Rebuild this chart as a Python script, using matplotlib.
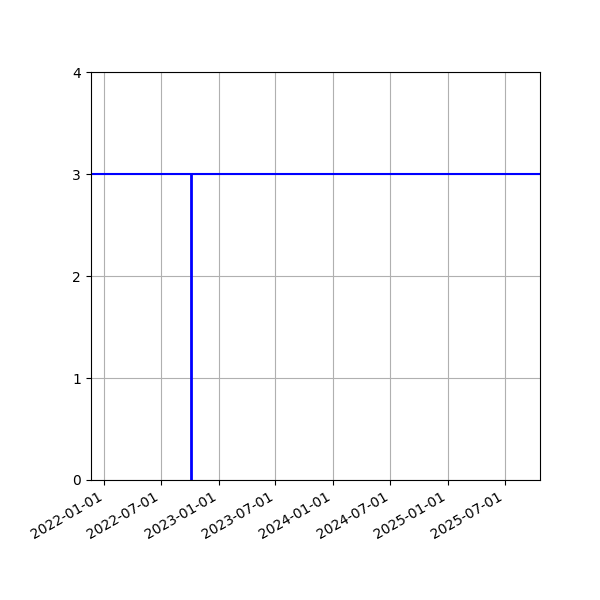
import datetime as dt
import matplotlib
matplotlib.use("Agg")
import matplotlib.pyplot as plt
import matplotlib.dates as mdates

level = 3
event_date = dt.date(2022, 10, 5)
x_start = dt.date(2021, 11, 18)
x_end = dt.date(2025, 10, 22)

fig, ax = plt.subplots(figsize=(6, 6), dpi=100)

ax.axhline(level, color='blue', linewidth=1.5)
ax.vlines(event_date, 0, level, color='blue', linewidth=2)

ax.set_xlim(x_start, x_end)
ax.set_ylim(0, 4)
ax.set_yticks([0, 1, 2, 3, 4])
ax.xaxis.set_major_locator(mdates.MonthLocator(bymonth=[1, 7]))
ax.xaxis.set_major_formatter(mdates.DateFormatter('%Y-%m-%d'))
ax.grid(True)
fig.autofmt_xdate()
fig.subplots_adjust(left=0.151, right=0.9, top=0.88, bottom=0.2)

fig.savefig('out.png')
